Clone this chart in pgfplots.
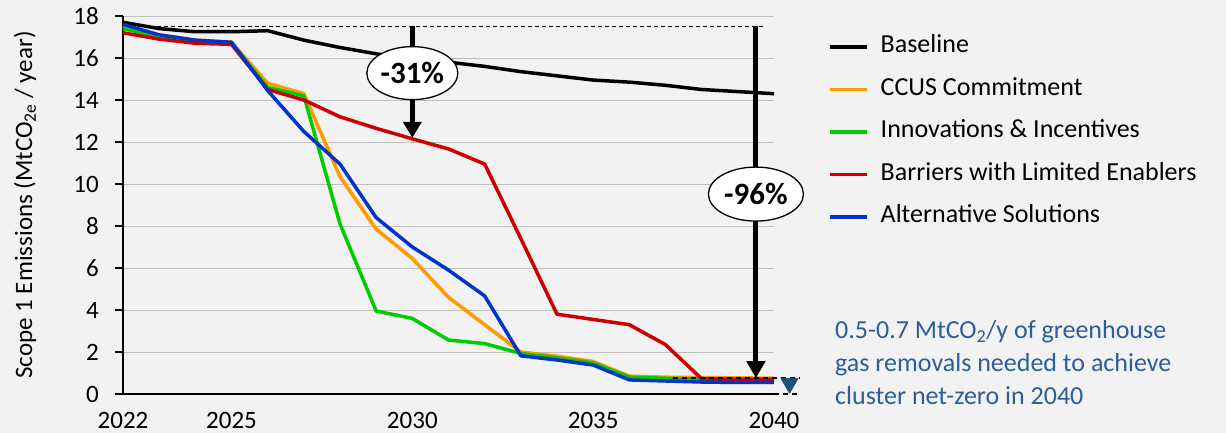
\documentclass[border=0pt]{standalone}
\usepackage{fontspec}
\setmainfont{Carlito}
\usepackage{pgfplots}
\pgfplotsset{compat=1.18}
\usetikzlibrary{arrows.meta,shapes.geometric}
\definecolor{bg}{HTML}{F2F2F2}
\definecolor{cOrange}{RGB}{255,153,0}
\definecolor{cGreen}{RGB}{0,204,0}
\definecolor{cRed}{RGB}{204,0,0}
\definecolor{cBlue}{RGB}{0,51,204}
\definecolor{cNote}{RGB}{46,93,154}
\definecolor{cTri}{RGB}{31,78,121}
\begin{document}
\begin{tikzpicture}
\fill[bg] (-123pt,-39pt) rectangle (1103pt,394pt);
\begin{axis}[
  at={(0pt,0pt)}, anchor=south west,
  scale only axis, width=651pt, height=378pt,
  xmin=2022, xmax=2040, ymin=0, ymax=18,
  axis lines*=left,
  axis line style={black, line width=1.6pt},
  xtick={2022,2025,2030,2035,2040},
  ytick={0,2,...,18},
  xtick style={draw=none},
  ytick style={black, line width=1.2pt},
  tick align=outside, major tick length=8pt,
  ymajorgrids, grid style={draw=black!25, line width=0.9pt},
  clip=false,
  /pgf/number format/assume math mode=true,
  /pgf/number format/1000 sep={},
  tick label style={font=\fontsize{25}{30}\selectfont},
  xticklabel style={anchor=center, yshift=-18pt},
  yticklabel style={anchor=east, inner sep=0pt, xshift=-16pt},
  every axis y label/.style={at={(axis description cs:-0.1505,0.5)}, rotate=90, anchor=center, font=\fontsize{25}{30}\selectfont},
  ylabel={Scope 1 Emissions (MtCO\textsubscript{2e} / year)},
  legend style={draw=none, fill=none, at={(1.083,0.975)}, anchor=north west,
    font=\fontsize{26}{31}\selectfont, inner sep=0pt, row sep=0pt, column sep=12pt,
    nodes={inner sep=0pt, text height=27pt, text depth=15.5pt}},
  legend cell align=left,
  legend image code/.code={\draw[#1, line width=3.5pt] (0pt,0pt) -- (37pt,0pt);},
  every axis plot/.append style={line width=3.5pt, line join=round},
]
\addplot[black, no marks] coordinates {(2022,17.7)(2023,17.4)(2024,17.25)(2025,17.25)(2026,17.3)(2027,16.85)(2028,16.5)(2029,16.2)(2030,15.95)(2031,15.8)(2032,15.6)(2033,15.35)(2034,15.15)(2035,14.95)(2036,14.85)(2037,14.7)(2038,14.5)(2039,14.4)(2040,14.3)};
\addlegendentry{Baseline}
\addplot[cOrange, no marks] coordinates {(2022,17.5)(2023,17.1)(2024,16.85)(2025,16.75)(2026,14.8)(2027,14.3)(2028,10.35)(2029,7.85)(2030,6.45)(2031,4.6)(2032,3.3)(2033,2.0)(2034,1.8)(2035,1.55)(2036,0.85)(2037,0.8)(2038,0.78)(2039,0.77)(2040,0.75)};
\addlegendentry{CCUS Commitment}
\addplot[cGreen, no marks] coordinates {(2022,17.4)(2023,17.0)(2024,16.8)(2025,16.7)(2026,14.6)(2027,14.2)(2028,8.1)(2029,3.95)(2030,3.6)(2031,2.57)(2032,2.4)(2033,1.93)(2034,1.72)(2035,1.48)(2036,0.8)(2037,0.75)(2038,0.7)(2039,0.7)(2040,0.7)};
\addlegendentry{Innovations \& Incentives}
\addplot[cRed, no marks] coordinates {(2022,17.2)(2023,16.9)(2024,16.7)(2025,16.65)(2026,14.5)(2027,14.0)(2028,13.2)(2029,12.65)(2030,12.15)(2031,11.67)(2032,10.95)(2033,7.4)(2034,3.8)(2035,3.55)(2036,3.3)(2037,2.35)(2038,0.72)(2039,0.7)(2040,0.7)};
\addlegendentry{Barriers with Limited Enablers}
\addplot[cBlue, no marks] coordinates {(2022,17.6)(2023,17.1)(2024,16.85)(2025,16.75)(2026,14.45)(2027,12.5)(2028,10.95)(2029,8.4)(2030,7.0)(2031,5.9)(2032,4.67)(2033,1.82)(2034,1.62)(2035,1.38)(2036,0.67)(2037,0.62)(2038,0.57)(2039,0.55)(2040,0.55)};
\addlegendentry{Alternative Solutions}
% reference lines
\addplot[black, line width=0.8pt, dash pattern=on 4pt off 3pt, forget plot] coordinates {(2022.75,17.5)(2039.7,17.5)};
\addplot[black, line width=1.5pt, dash pattern=on 5pt off 4pt, forget plot] coordinates {(2037.2,0.75)(2040.7,0.75)};
\addplot[black, line width=1.2pt, dash pattern=on 5pt off 4pt, forget plot] coordinates {(2040,0)(2040.7,0)};
\addplot[cTri, only marks, mark=triangle*, mark size=10pt, mark options={rotate=180, draw=cTri, fill=cTri, line width=0.5pt}, forget plot] coordinates {(2040.43,0.5)};
% arrows
\draw[black, line width=5pt, -{Triangle[length=16pt, width=18pt]}] (axis cs:2030,17.5) -- (axis cs:2030,12.2);
\draw[black, line width=5pt, -{Triangle[length=17pt, width=18pt]}] (axis cs:2039.5,17.5) -- (axis cs:2039.5,0.75);
\node[ellipse, draw=black, line width=1.3pt, fill=white, minimum width=91pt, minimum height=53pt, inner sep=0pt, font=\fontsize{31}{36}\selectfont\bfseries] at (axis cs:2030,15.28) {-31\%};
\node[ellipse, draw=black, line width=1.3pt, fill=white, minimum width=95pt, minimum height=54pt, inner sep=0pt, font=\fontsize{31}{36}\selectfont\bfseries] at (axis cs:2039.5,9.52) {-96\%};
\node[anchor=west, align=left, inner sep=0pt, text=cNote, font=\fontsize{26}{33}\selectfont] at (axis description cs:1.0937,0.082) {0.5-0.7 MtCO\textsubscript{2}/y of greenhouse\\gas removals needed to achieve\\cluster net-zero in 2040};
\end{axis}
\end{tikzpicture}
\end{document}
